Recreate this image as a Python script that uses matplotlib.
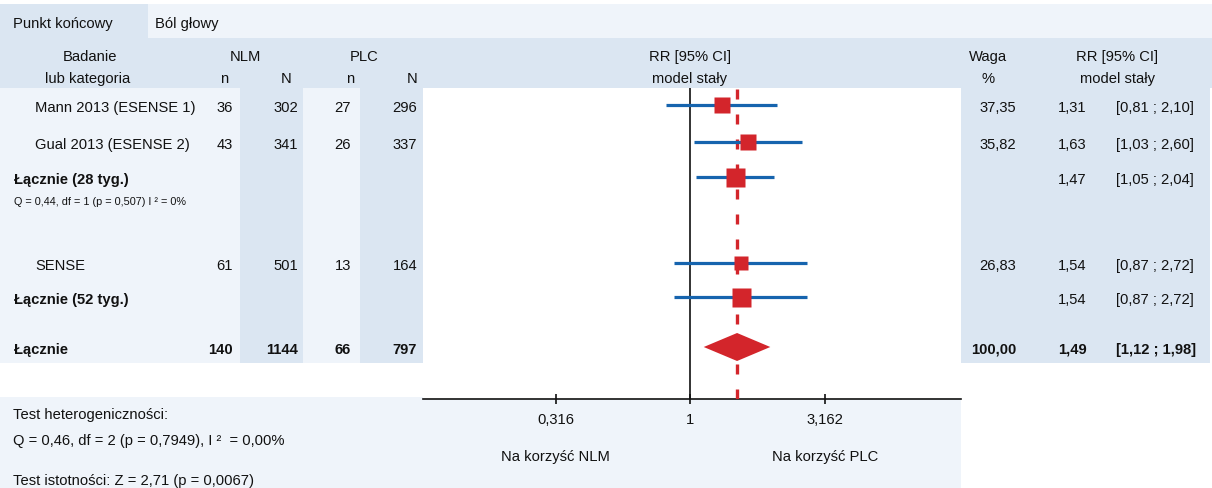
import matplotlib
matplotlib.use("Agg")
import matplotlib.pyplot as plt
from matplotlib.patches import Rectangle

plt.rcParams['font.family'] = ['Liberation Sans', 'DejaVu Sans']

# ---------------- data ----------------
endpoint_label = "Punkt końcowy"
endpoint = "Ból głowy"
studies = ["Mann 2013 (ESENSE 1)", "Gual 2013 (ESENSE 2)", "SENSE"]
nlm_n = [36, 43, 61]
nlm_N = [302, 341, 501]
plc_n = [27, 26, 13]
plc_N = [296, 337, 164]
weights = [37.35, 35.82, 26.83]
rr = [1.31, 1.63, 1.54]
rr_lo = [0.81, 1.03, 0.87]
rr_hi = [2.10, 2.60, 2.72]

subtotals = ["Łącznie (28 tyg.)", "Łącznie (52 tyg.)"]
sub_rr = [1.47, 1.54]
sub_lo = [1.05, 0.87]
sub_hi = [2.04, 2.72]
sub_het = "Q = 0,44, df = 1 (p = 0,507) I ² = 0%"

total_label = "Łącznie"
total_counts = [140, 1144, 66, 797]
total_weight = 100.00
total_rr = 1.49
total_lo = 1.12
total_hi = 1.98

tick_vals = [0.316, 1, 3.162]
tick_labels = ["0,316", "1", "3,162"]
favours = ["Na korzyść NLM", "Na korzyść PLC"]
het_lines = ["Test heterogeniczności:",
             "Q = 0,46, df = 2 (p = 0,7949), I ²  = 0,00%",
             "Test istotności: Z = 2,71 (p = 0,0067)"]

# ---------------- style / layout ----------------
W, H = 1212, 489
DARK = '#dbe6f2'
LIGHT = '#eff4fa'
RED = '#d3252b'
BLUE = '#1664ae'
FS = 10.6
DY = 2  # baseline tweak for va='center'

def fmt(v):
    return f"{v:.2f}".replace('.', ',')

fig = plt.figure(figsize=(W / 100, H / 100), dpi=100)
bg = fig.add_axes([0, 0, 1, 1])
bg.set_xlim(0, W)
bg.set_ylim(H, 0)
bg.axis('off')

def rect(x0, y0, x1, y1, c):
    bg.add_patch(Rectangle((x0, y0), x1 - x0, y1 - y0, facecolor=c, edgecolor='none', zorder=0))

# backgrounds
rect(0, 5, 148, 39, DARK)
rect(148, 5, W, 39, LIGHT)
rect(0, 39, W, 89, DARK)
rect(0, 89, 423, 364, LIGHT)
rect(240, 89, 303, 364, DARK)
rect(360, 89, 423, 364, DARK)
rect(961, 89, W - 2, 364, DARK)
rect(0, 398, 961, H, LIGHT)

def t(x, y, s, ha='left', bold=False, size=FS):
    bg.text(x, y + DY, s, ha=ha, va='center', fontsize=size,
            fontweight='bold' if bold else 'normal', color='#111111', zorder=3)

# header texts
t(13, 22, endpoint_label)
t(155, 22, endpoint)
t(90, 55, "Badanie", ha='center')
t(88, 77, "lub kategoria", ha='center')
t(245, 55, "NLM", ha='center')
t(364, 55, "PLC", ha='center')
for x, s in [(224, "n"), (286, "N"), (350, "n"), (412, "N")]:
    t(x, 77, s, ha='center')
t(690, 55, "RR [95% CI]", ha='center')
t(690, 77, "model stały", ha='center')
t(988, 55, "Waga", ha='center')
t(988, 77, "%", ha='center')
t(1117, 55, "RR [95% CI]", ha='center')
t(1118, 77, "model stały", ha='center')

# row layout
study_y = [106, 143, 264]
sub_y = [178, 298]
het_y = 200
total_y = 348
col_right = [233, 298, 351, 417]

for i, y in enumerate(study_y):
    t(35, y, studies[i])
    for xr, v in zip(col_right, [nlm_n[i], nlm_N[i], plc_n[i], plc_N[i]]):
        t(xr, y, str(v), ha='right')
    t(1016, y, fmt(weights[i]), ha='right')
    t(1058, y, fmt(rr[i]))
    t(1116, y, f"[{fmt(rr_lo[i])} ; {fmt(rr_hi[i])}]")

for j, y in enumerate(sub_y):
    t(14, y, subtotals[j], bold=True)
    t(1058, y, fmt(sub_rr[j]))
    t(1116, y, f"[{fmt(sub_lo[j])} ; {fmt(sub_hi[j])}]")
t(14, het_y, sub_het, size=7.8)

t(14, total_y, total_label, bold=True)
for xr, v in zip(col_right, total_counts):
    t(xr, total_y, str(v), ha='right', bold=True)
t(1016, total_y, fmt(total_weight), ha='right', bold=True)
t(1058, total_y, fmt(total_rr), bold=True)
t(1116, total_y, f"[{fmt(total_lo)} ; {fmt(total_hi)}]", bold=True)

# bottom texts
t(13, 413, het_lines[0])
t(13, 439, het_lines[1])
t(13, 479, het_lines[2])

# ---------------- forest axes ----------------
ax_l, ax_r, ax_top, ax_bot = 423, 961, 89, 400
ax = fig.add_axes([ax_l / W, (H - ax_bot) / H, (ax_r - ax_l) / W, (ax_bot - ax_top) / H])
ax.set_zorder(2)
ax.set_facecolor('white')
ax.set_xscale('log')
ax.set_xlim(0.1013, 10.13)
ax.set_ylim(ax_bot, ax_top)
for s in ['top', 'left', 'right']:
    ax.spines[s].set_visible(False)
ax.spines['bottom'].set_linewidth(1.2)
ax.spines['bottom'].set_color('#111111')
ax.set_yticks([])
ax.set_xticks(tick_vals)
ax.set_xticklabels(tick_labels, fontsize=FS, color='#111111')
ax.xaxis.set_minor_locator(matplotlib.ticker.NullLocator())
ax.tick_params(axis='x', direction='inout', length=7, width=1.2, pad=6, color='#111111')

ax.axvline(1, color='#111111', lw=1.2, zorder=2)
ax.axvline(total_rr, color=RED, lw=2.4, dashes=(3, 4.5), zorder=3)

ax.hlines(study_y, rr_lo, rr_hi, color=BLUE, lw=2.3, zorder=4)
ax.hlines(sub_y, sub_lo, sub_hi, color=BLUE, lw=2.3, zorder=4)
for i, y in enumerate(study_y):
    size_px = 2.6 * weights[i] ** 0.5
    ax.plot([rr[i]], [y], marker='s', ms=size_px * 0.72, color=RED, mec='none', zorder=5)
for j, y in enumerate(sub_y):
    ax.plot([sub_rr[j]], [y], marker='s', ms=19 * 0.72, color=RED, mec='none', zorder=5)
ax.fill([total_lo, total_rr, total_hi, total_rr],
        [total_y, total_y - 14, total_y, total_y + 14], color=RED, lw=0, zorder=5)

ax.text(0.316, 455 + DY, favours[0], ha='center', va='center', fontsize=FS, color='#111111')
ax.text(3.162, 455 + DY, favours[1], ha='center', va='center', fontsize=FS, color='#111111')

fig.savefig("out.png", dpi=100)
